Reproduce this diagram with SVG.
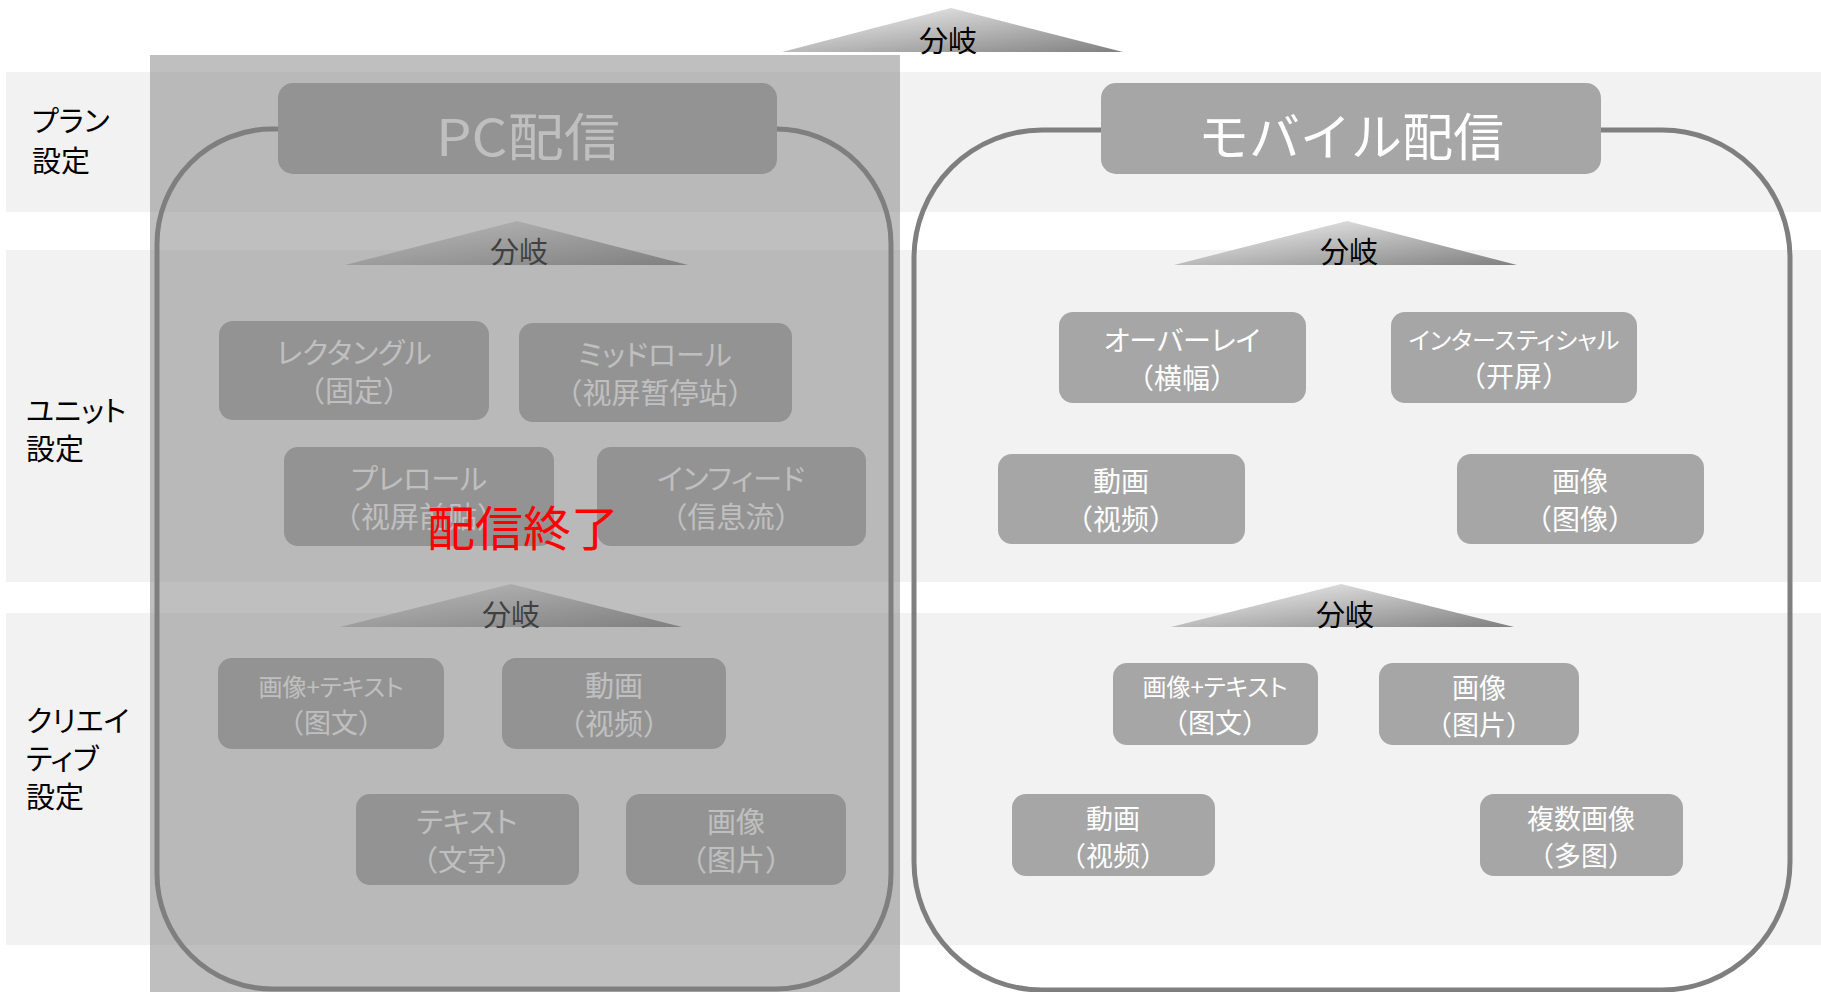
<svg xmlns="http://www.w3.org/2000/svg" width="1821" height="992" viewBox="0 0 1821 992">
<style>
text{font-family:"Noto Sans CJK JP","Noto Sans CJK SC",sans-serif;}
.band{fill:#f2f2f2;}
.lbl{font-size:29px;fill:#000;font-feature-settings:"palt";}
.cont{fill:none;stroke:#7f7f7f;stroke-width:5;}
.title{fill:#a6a6a6;}
.ttl{font-size:51px;fill:#fff;text-anchor:middle;}
.tri{fill:url(#tg);}
.bt{font-size:29px;fill:#000;text-anchor:middle;}
.node rect{fill:#a6a6a6;}
.nt{font-size:29px;fill:#fff;text-anchor:middle;}
.m{font-size:28px;}
.c{font-size:27px;}
.k{font-feature-settings:"palt";}
.s{font-size:24px;}
.overlay{fill:#7f7f7f;fill-opacity:0.5;}
.end{font-size:48px;fill:#ff0000;text-anchor:middle;}
</style>
<defs>
<linearGradient id="tg" x1="0" y1="0" x2="1" y2="1">
<stop offset="0" stop-color="#f7f7f7"/>
<stop offset="1" stop-color="#808080"/>
</linearGradient>
</defs>
<rect width="1821" height="992" fill="#fff"/>
<g id="bands">
<rect class="band" x="6" y="72" width="1815" height="140"/>
<rect class="band" x="6" y="250" width="1815" height="332"/>
<rect class="band" x="6" y="613" width="1815" height="332"/>
</g>
<g id="row-labels">
<text class="lbl"><tspan x="32" y="132">プラン</tspan><tspan x="32" y="172">設定</tspan></text>
<text class="lbl"><tspan x="26" y="422">ユニット</tspan><tspan x="26" y="460">設定</tspan></text>
<text class="lbl"><tspan x="26" y="732">クリエイ</tspan><tspan x="26" y="770">ティブ</tspan><tspan x="26" y="808">設定</tspan></text>
</g>
<g id="connectors">
<rect class="cont" x="157" y="129" width="734" height="860" rx="115" ry="115"/>
<rect class="cont" x="914" y="130" width="876" height="860" rx="128" ry="128"/>
</g>
<g id="branch-top">
<polygon class="tri" points="951,8 782,52 1123,52"/>
<text class="bt" x="948" y="52">分岐</text>
</g>
<g id="pc-title">
<rect class="title" x="278" y="83" width="499" height="91" rx="15"/>
<text class="ttl" x="528" y="156" textLength="184" lengthAdjust="spacingAndGlyphs">PC配信</text>
</g>
<g id="mobile-title">
<rect class="title" x="1101" y="83" width="500" height="91" rx="15"/>
<text class="ttl" x="1351" y="156">モバイル配信</text>
</g>
<g id="pc-unit-branch">
<polygon class="tri" points="517,221 345,265 688,265"/>
<text class="bt" x="519" y="263">分岐</text>
</g>
<g id="mobile-unit-branch">
<polygon class="tri" points="1347,221 1174,265 1517,265"/>
<text class="bt" x="1349" y="263">分岐</text>
</g>
<g id="pc-creative-branch">
<polygon class="tri" points="511,584 340,627 682,627"/>
<text class="bt" x="511" y="626">分岐</text>
</g>
<g id="mobile-creative-branch">
<polygon class="tri" points="1341,584 1171,627 1514,627"/>
<text class="bt" x="1345" y="626">分岐</text>
</g>
<g id="pc-rectangle" class="node">
<rect x="219" y="321" width="270" height="99" rx="14"/>
<text class="nt"><tspan class="k" x="354" y="364">レクタングル</tspan><tspan x="354" y="402">（固定）</tspan></text>
</g>
<g id="pc-midroll" class="node">
<rect x="519" y="323" width="273" height="99" rx="14"/>
<text class="nt"><tspan class="k" x="655" y="366">ミッドロール</tspan><tspan x="655" y="404">（视屏暂停站）</tspan></text>
</g>
<g id="pc-preroll" class="node">
<rect x="284" y="447" width="270" height="99" rx="14"/>
<text class="nt"><tspan class="k" x="419" y="490">プレロール</tspan><tspan x="419" y="528">（视屏前贴）</tspan></text>
</g>
<g id="pc-infeed" class="node">
<rect x="597" y="447" width="269" height="99" rx="14"/>
<text class="nt"><tspan class="k" x="731" y="490">インフィード</tspan><tspan x="731" y="528">（信息流）</tspan></text>
</g>
<g id="pc-imagetext" class="node">
<rect x="218" y="658" width="226" height="91" rx="14"/>
<text class="nt c"><tspan class="k s" x="331" y="696">画像+テキスト</tspan><tspan x="331" y="733">（图文）</tspan></text>
</g>
<g id="pc-video" class="node">
<rect x="502" y="658" width="224" height="91" rx="14"/>
<text class="nt"><tspan x="614" y="697">動画</tspan><tspan x="614" y="735">（视频）</tspan></text>
</g>
<g id="pc-text" class="node">
<rect x="356" y="794" width="223" height="91" rx="14"/>
<text class="nt"><tspan class="k" x="467" y="833">テキスト</tspan><tspan x="467" y="871">（文字）</tspan></text>
</g>
<g id="pc-image" class="node">
<rect x="626" y="794" width="220" height="91" rx="14"/>
<text class="nt"><tspan x="736" y="833">画像</tspan><tspan x="736" y="871">（图片）</tspan></text>
</g>
<g id="mobile-overlay" class="node">
<rect x="1059" y="312" width="247" height="91" rx="14"/>
<text class="nt m"><tspan class="k" x="1182" y="351">オーバーレイ</tspan><tspan x="1182" y="389">（横幅）</tspan></text>
</g>
<g id="mobile-interstitial" class="node">
<rect x="1391" y="312" width="246" height="91" rx="14"/>
<text class="nt m"><tspan class="k s" x="1514" y="349">インタースティシャル</tspan><tspan x="1514" y="387">（开屏）</tspan></text>
</g>
<g id="mobile-video" class="node">
<rect x="998" y="454" width="247" height="90" rx="14"/>
<text class="nt m"><tspan x="1121" y="492">動画</tspan><tspan x="1121" y="530">（视频）</tspan></text>
</g>
<g id="mobile-image" class="node">
<rect x="1457" y="454" width="247" height="90" rx="14"/>
<text class="nt m"><tspan x="1580" y="492">画像</tspan><tspan x="1580" y="530">（图像）</tspan></text>
</g>
<g id="mobile-imagetext" class="node">
<rect x="1113" y="663" width="205" height="82" rx="14"/>
<text class="nt c"><tspan class="k s" x="1215" y="696">画像+テキスト</tspan><tspan x="1215" y="733">（图文）</tspan></text>
</g>
<g id="mobile-image2" class="node">
<rect x="1379" y="663" width="200" height="82" rx="14"/>
<text class="nt c"><tspan x="1479" y="698">画像</tspan><tspan x="1479" y="735">（图片）</tspan></text>
</g>
<g id="mobile-video2" class="node">
<rect x="1012" y="794" width="203" height="82" rx="14"/>
<text class="nt c"><tspan x="1113" y="829">動画</tspan><tspan x="1113" y="866">（视频）</tspan></text>
</g>
<g id="mobile-multiimage" class="node">
<rect x="1480" y="794" width="203" height="82" rx="14"/>
<text class="nt c"><tspan x="1581" y="829">複数画像</tspan><tspan x="1581" y="866">（多图）</tspan></text>
</g>
<g id="pc-ended-overlay">
<rect class="overlay" x="150" y="55" width="750" height="937"/>
<text class="end" x="523" y="546">配信終了</text>
</g>
</svg>
